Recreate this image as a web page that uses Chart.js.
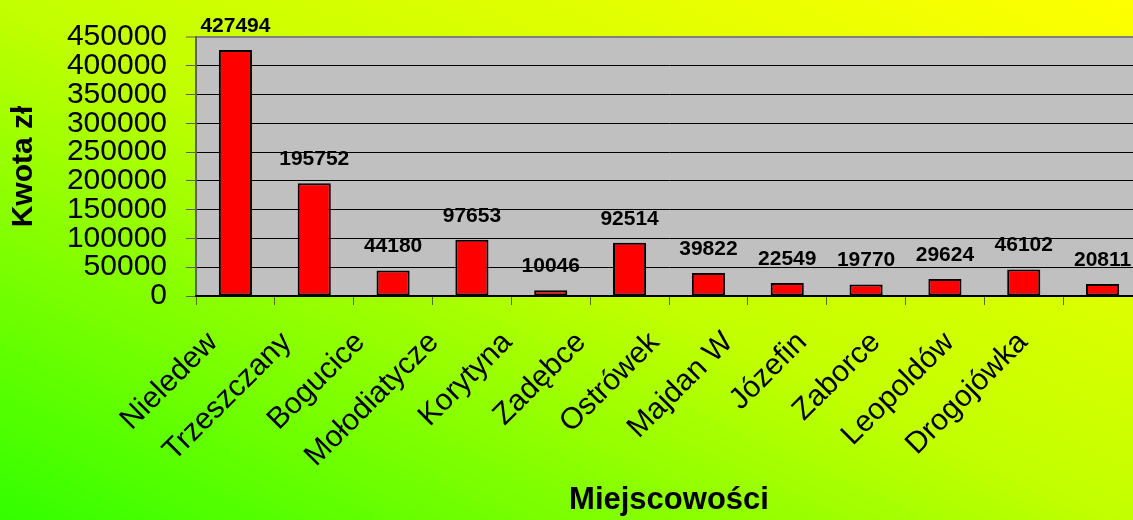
<!DOCTYPE html>
<html>
<head>
<meta charset="utf-8">
<script src="https://cdn.jsdelivr.net/npm/chart.js@4/dist/chart.umd.min.js"></script>
<style>
  html, body { margin: 0; padding: 0; overflow: hidden; width: 1133px; height: 520px; }
  #wrap { width: 1142px; height: 520px; position: relative; }
</style>
</head>
<body>
<div id="wrap"><canvas id="c"></canvas></div>
<script>
const categories = ["Nieledew", "Trzeszczany", "Bogucice", "Mołodiatycze", "Korytyna", "Zadębce",
                    "Ostrówek", "Majdan W", "Józefin", "Zaborce", "Leopoldów", "Drogojówka"];
const amounts = [427494, 195752, 44180, 97653, 10046, 92514, 39822, 22549, 19770, 29624, 46102, 20811];
const yTickLabels = ["0", "50000", "100000", "150000", "200000", "250000", "300000", "350000", "400000", "450000"];
const yTitle = "Kwota zł";
const xTitle = "Miejscowości";

const FONT = "'Liberation Sans', Arial, sans-serif";

const bgPlugin = {
  id: 'bg',
  beforeDraw(chart) {
    const ctx = chart.ctx;
    ctx.save();
    ctx.scale(1133, 520);
    const g = ctx.createLinearGradient(0, 1, 1, 0);
    g.addColorStop(0, 'rgb(50,255,0)');
    g.addColorStop(0.5, 'rgb(195,255,0)');
    g.addColorStop(1, 'rgb(255,255,0)');
    ctx.fillStyle = g;
    ctx.fillRect(0, 0, 1.02, 1);
    ctx.restore();
    const a = chart.chartArea;
    ctx.save();
    ctx.fillStyle = '#C0C0C0';
    ctx.fillRect(a.left, a.top, a.right - a.left, a.bottom - a.top);
    ctx.restore();
  }
};

const valuePlugin = {
  id: 'values',
  afterDatasetsDraw(chart) {
    const ctx = chart.ctx;
    const meta = chart.getDatasetMeta(0);
    ctx.save();
    ctx.font = "bold 21px " + FONT;
    ctx.fillStyle = '#000';
    ctx.textAlign = 'center';
    ctx.textBaseline = 'middle';
    meta.data.forEach((el, i) => {
      ctx.fillText(String(chart.data.datasets[0].data[i]), el.x, el.y - 24);
    });
    ctx.restore();
  }
};

new Chart(document.getElementById('c'), {
  type: 'bar',
  data: {
    labels: categories,
    datasets: [{
      data: amounts,
      backgroundColor: '#FF0000',
      borderColor: '#000000',
      borderWidth: 2,
      borderSkipped: false,
      categoryPercentage: 1,
      barPercentage: 0.42,
      xAxisID: 'x',
      yAxisID: 'y'
    }]
  },
  options: {
    responsive: true,
    maintainAspectRatio: false,
    animation: false,
    layout: { padding: { top: 35, left: 0, right: 0, bottom: 0 } },
    plugins: { legend: { display: false }, tooltip: { enabled: false } },
    scales: {
      y: {
        type: 'linear',
        position: 'left',
        min: 0,
        max: 450000,
        afterFit(s) { s.width = 196; },
        ticks: {
          stepSize: 50000,
          autoSkip: false,
          padding: 19,
          color: '#000',
          font: { family: FONT, size: 30 },
          callback: (v) => yTickLabels[Math.round(v / 50000)]
        },
        grid: {
          color: (c) => (c.tick && c.tick.value === 450000) ? '#808080' : '#000000',
          lineWidth: (c) => (c.tick && c.tick.value === 450000) ? 2 : 1,
          tickColor: '#606060',
          tickLength: 10,
          tickWidth: 1
        },
        border: { color: '#606060', width: 2 },
        title: {
          display: true,
          text: yTitle,
          color: '#000',
          font: { family: FONT, size: 30, weight: 'bold' },
          padding: { top: 6, bottom: 0 }
        }
      },
      x: {
        type: 'category',
        position: 'bottom',
        offset: true,
        afterFit(s) { s.height = 9; },
        ticks: { display: false },
        grid: {
          offset: true,
          drawOnChartArea: false,
          tickLength: 9,
          tickColor: '#556b2f',
          tickWidth: 1
        },
        border: { color: '#000', width: 2 }
      },
      xl: {
        type: 'linear',
        position: 'bottom',
        offset: false,
        bounds: 'data',
        min: -0.2309,
        max: 12.615,
        afterBuildTicks(s) { s.ticks = categories.map((c, i) => ({ value: i })); },
        afterFit(s) { s.height = 215; },
        grid: { display: false },
        border: { display: false },
        ticks: {
          autoSkip: false,
          minRotation: 45,
          maxRotation: 45,
          padding: 12,
          color: '#000',
          font: { family: FONT, size: 30 },
          callback: (v) => categories[Math.round(v)] ?? ''
        },
        title: {
          display: true,
          text: xTitle,
          color: '#000',
          font: { family: FONT, size: 31, weight: 'bold' },
          padding: { top: 0, bottom: 1 }
        }
      }
    }
  },
  plugins: [bgPlugin, valuePlugin]
});
</script>
</body>
</html>
